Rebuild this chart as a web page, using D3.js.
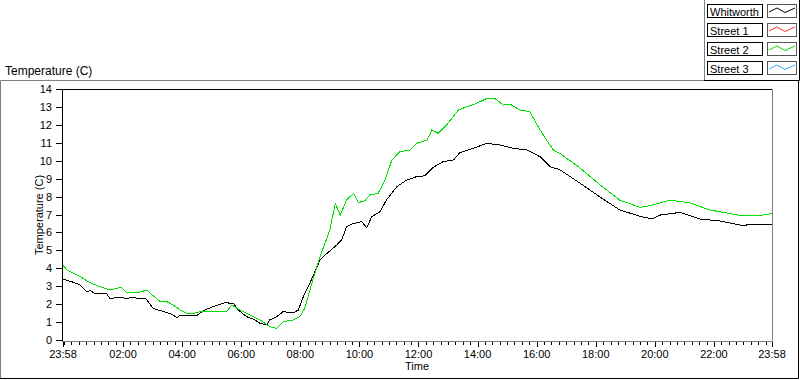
<!DOCTYPE html>
<html>
<head>
<meta charset="utf-8">
<script src="https://cdn.jsdelivr.net/npm/d3@7"></script>
<style>
    body { margin: 0; background: #fff; }
    text { font-family: "Liberation Sans", Arial, sans-serif; font-size: 11px; fill: #000; }
</style>
</head>
<body>
<svg id="chart" width="800" height="380"></svg>
<script>

// series: minutes after 23:58 start, temperature in C
const whitworthMin = [0, 18, 35, 48, 55, 65, 89, 95, 116, 129, 143, 156, 168, 173, 183, 197, 211, 224, 231, 238,
    272, 285, 305, 329, 346, 356, 373, 390, 400, 414, 420, 434, 447, 468, 478, 488, 505, 522, 536, 556,
    566, 576, 590, 607, 617, 627, 644, 657, 678, 698, 718, 735, 752, 772, 793, 806, 833, 861, 887, 915,
    942, 969, 989, 1009, 1050, 1091, 1131, 1172, 1196, 1213, 1254, 1294, 1334, 1375, 1440];
const whitworthTemp = [3.39, 3.25, 3.07, 2.7, 2.75, 2.6, 2.57, 2.32, 2.38, 2.32, 2.38, 2.29, 2.32, 2.14, 1.77, 1.64, 1.54, 1.39, 1.24, 1.39,
    1.37, 1.64, 1.86, 2.08, 2.04, 1.67, 1.3, 1.12, 0.93, 0.84, 1.12, 1.3, 1.58, 1.52, 1.67, 2.41, 3.39, 4.46, 4.83, 5.3,
    5.58, 6.32, 6.5, 6.6, 6.26, 6.88, 7.16, 7.81, 8.55, 8.92, 9.11, 9.16, 9.63, 9.95, 10.04, 10.45, 10.69, 10.97, 10.88, 10.69,
    10.6, 10.22, 9.67, 9.5, 8.75, 7.97, 7.25, 6.9, 6.75, 6.97, 7.12, 6.75, 6.64, 6.41, 6.43];

const street1Min = [];
const street1Temp = [];

const street2Min = [0, 8, 28, 41, 51, 62, 75, 95, 109, 119, 129, 153, 170, 177, 190, 197, 211, 224, 238, 251,
    265, 278, 332, 343, 359, 380, 387, 400, 420, 434, 447, 468, 481, 491, 508, 522, 542, 553, 563, 576,
    590, 600, 613, 623, 640, 654, 668, 684, 705, 718, 739, 749, 762, 779, 803, 820, 840, 861, 877, 894,
    908, 928, 948, 965, 982, 996, 1009, 1050, 1091, 1131, 1172, 1193, 1233, 1273, 1314, 1375, 1416, 1440];
const street2Temp = [4.18, 3.9, 3.63, 3.44, 3.25, 3.12, 2.97, 2.79, 2.88, 2.94, 2.66, 2.64, 2.79, 2.6, 2.32, 2.14, 2.14, 1.95, 1.67, 1.49,
    1.49, 1.58, 1.58, 1.95, 1.67, 1.39, 1.3, 1.12, 0.74, 0.65, 1.02, 1.12, 1.3, 1.77, 3.4, 4.65, 6.13, 7.62, 6.97, 7.81,
    8.18, 7.66, 7.77, 8.09, 8.18, 8.92, 10.04, 10.5, 10.6, 10.97, 11.15, 11.71, 11.53, 11.99, 12.83, 13.01, 13.2, 13.48, 13.48, 13.1,
    13.16, 12.83, 12.73, 11.9, 11.15, 10.6, 10.41, 9.6, 8.65, 7.8, 7.4, 7.5, 7.8, 7.65, 7.25, 6.95, 6.95, 7.05];

const street3Min = [];
const street3Temp = [];

const seriesNames = ['Whitworth', 'Street 1', 'Street 2', 'Street 3'];
const seriesColors = ['#000000', '#ff3030', '#00e000', '#30b0ff'];
const yTicks = d3.range(0, 15);
const majorHours = [2, 4, 6, 8, 10, 12, 14, 16, 18, 20, 22];

const start = new Date(2000, 0, 1, 23, 58);
const end = new Date(2000, 0, 2, 23, 58);

const svg = d3.select('#chart');

const margin = { left: 62, top: 89, right: 772, bottom: 341 };

const x = d3.scaleTime().domain([start, end]).range([margin.left + 1, margin.right]);
const y = d3.scaleLinear().domain([0, 14]).range([margin.bottom - 1, margin.top]);

function toSeries(mins, temps) {
    return mins.map((m, i) => ({ t: d3.timeMinute.offset(start, m), v: temps[i] }));
}

const series = [
    toSeries(whitworthMin, whitworthTemp),
    toSeries(street1Min, street1Temp),
    toSeries(street2Min, street2Temp),
    toSeries(street3Min, street3Temp)
];

// outer sunken frame
svg.append('path').attr('d', 'M0.5,378 V80.5 H705').attr('fill', 'none').attr('stroke', '#808080');
svg.append('path').attr('d', 'M0,378.5 H798.5 V80').attr('fill', 'none').attr('stroke', '#000');

// legend frame
svg.append('path').attr('d', 'M704.5,80 V0').attr('fill', 'none').attr('stroke', '#808080');
svg.append('path').attr('d', 'M704,80.5 H799.5 V0').attr('fill', 'none').attr('stroke', '#000');

// titles
svg.append('text').attr('x', 5).attr('y', 75).style('font-size', '12px').text('Temperature (C)');
svg.append('text')
    .attr('transform', `translate(43,${(margin.top + margin.bottom) / 2}) rotate(-90)`)
    .attr('text-anchor', 'middle')
    .text('Temperature (C)');
svg.append('text')
    .attr('x', (margin.left + margin.right) / 2)
    .attr('y', 370)
    .attr('text-anchor', 'middle')
    .text('Time');

// plot box
svg.append('path')
    .attr('d', `M${margin.left + 0.5},${margin.bottom} V${margin.top + 0.5} H${margin.right}`)
    .attr('fill', 'none').attr('stroke', '#000');
svg.append('path')
    .attr('d', `M${margin.right + 0.5},${margin.top} V${margin.bottom + 0.5} H${margin.left}`)
    .attr('fill', 'none').attr('stroke', '#808080');

// y axis
const yAxis = svg.append('g').attr('transform', `translate(${margin.left},0)`)
    .call(d3.axisLeft(y).tickValues(yTicks).tickSize(6).tickPadding(4).tickFormat(d3.format('d')));
yAxis.select('.domain').remove();
yAxis.attr('font-family', null).attr('font-size', null);
yAxis.selectAll('.tick line').attr('stroke', '#000').attr('shape-rendering', 'crispEdges');

// x axis: major and minor ticks
const majorTicks = [start].concat(majorHours.map(h => new Date(2000, 0, 2, h, 0)), [end]);
const minorTicks = d3.timeMinute.every(15).range(start, end)
    .filter(d => !majorHours.includes(d.getHours()) || d.getMinutes() !== 0);

const xg = svg.append('g').attr('transform', `translate(0,${margin.bottom + 1})`);
xg.selectAll('line.minor').data(minorTicks).enter().append('line')
    .attr('class', 'minor')
    .attr('x1', d => Math.round(x(d)) + 0.5).attr('x2', d => Math.round(x(d)) + 0.5)
    .attr('y1', 0).attr('y2', 3)
    .attr('stroke', '#000');
xg.selectAll('line.major').data(majorTicks).enter().append('line')
    .attr('class', 'major')
    .attr('x1', d => Math.round(x(d)) + 0.5).attr('x2', d => Math.round(x(d)) + 0.5)
    .attr('y1', 0).attr('y2', 5)
    .attr('stroke', '#000');
xg.selectAll('text').data(majorTicks).enter().append('text')
    .attr('x', d => x(d))
    .attr('y', 16)
    .attr('text-anchor', 'middle')
    .text(d3.timeFormat('%H:%M'));

// lines
const line = d3.line().x(d => x(d.t)).y(d => y(d.v));
svg.append('g').selectAll('path').data(series).enter().append('path')
    .attr('d', d => d.length ? line(d) : null)
    .attr('fill', 'none')
    .attr('stroke', (d, i) => seriesColors[i])
    .attr('stroke-width', 1)
    .attr('shape-rendering', 'crispEdges');

// legend
const legend = svg.append('g').selectAll('g').data(seriesNames).enter().append('g')
    .attr('transform', (d, i) => `translate(0,${4.5 + i * 19})`);
legend.append('rect')
    .attr('x', 707.5).attr('y', 0).attr('width', 55).attr('height', 13)
    .attr('fill', '#fff').attr('stroke', '#000');
legend.append('text').attr('x', 710).attr('y', 11).text(d => d);
legend.append('rect')
    .attr('x', 767.5).attr('y', 0).attr('width', 29).attr('height', 13)
    .attr('fill', '#fff').attr('stroke', '#555');
legend.append('path')
    .attr('d', 'M769,7.5 L777,3.5 L785,8 L795,3.5')
    .attr('fill', 'none')
    .attr('stroke', (d, i) => seriesColors[i]);

</script>
</body>
</html>
